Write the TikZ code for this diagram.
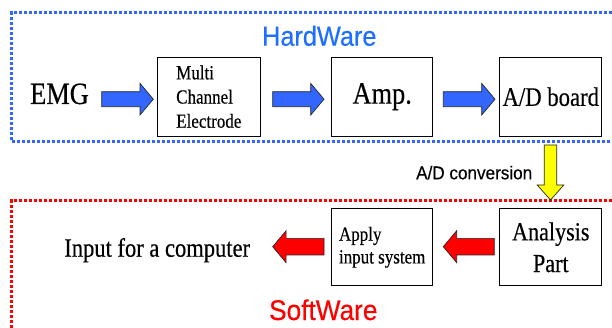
\documentclass[tikz,border=0pt]{standalone}
\usepackage{fontspec}
\setmainfont{Liberation Serif}
\newfontfamily\tnr[FakeStretch=0.85,FakeBold=0.4]{Liberation Serif}
\newfontfamily\tah[FakeStretch=0.92,FakeBold=0.3]{Liberation Sans}
\usetikzlibrary{calc}
\definecolor{hwblue}{RGB}{30,110,255}
\definecolor{dotblue}{RGB}{51,102,255}
\definecolor{arrblue}{RGB}{51,102,255}
\definecolor{swred}{RGB}{255,0,0}
\definecolor{adyellow}{RGB}{255,255,0}
\tikzset{
  blockbox/.style={draw=black, line width=1pt, inner sep=0pt},
  dotframe/.style={line width=2.6pt, dash pattern=on 3pt off 2pt},
  arrowline/.style={draw=black!85, line width=0.7pt, line join=miter},
  plain/.style={inner sep=0pt, anchor=base},
}
% fill, start, end, shaft half width, head half width, head length
\newcommand\blkarrow[6]{%
  \coordinate (bkH) at ($(#3)!#6!(#2)$);
  \draw[arrowline, fill=#1]
    ($(#2)!#4!90:(#3)$) -- ($(bkH)!#4!-90:(#2)$) -- ($(bkH)!#5!-90:(#2)$) -- (#3)
    -- ($(bkH)!#5!90:(#2)$) -- ($(bkH)!#4!90:(#2)$) -- ($(#2)!#4!-90:(#3)$) -- cycle;
}
\begin{document}
\begin{tikzpicture}[x=1pt,y=-1pt]
\useasboundingbox (0,0) rectangle (612,328);

% frames
\draw[dotframe, draw=dotblue] (612,12.3) -- (11.7,12.3) -- (11.7,141.7) -- (612,141.7);
\draw[dotframe, draw=swred] (612,200.7) -- (11.7,200.7) -- (11.7,328);

% titles
\node[plain, text=hwblue, font={\tah\fontsize{27.5}{33}\selectfont}] (hw) at (319.3,45.7) {HardWare};
\node[plain, text=swred, font={\tah\fontsize{28.5}{34}\selectfont}] (sw) at (323.3,320) {SoftWare};

% hardware row
\node[plain, font={\tnr\fontsize{31}{37}\selectfont}] (emg) at (59.5,104) {EMG};
\node[blockbox, minimum width=103pt, minimum height=78.7pt, align=left,
      font={\tnr\fontsize{20}{24.2}\selectfont}] (mce) at (208.8,96.7) {Multi\\Channel\\Electrode};
\node[blockbox, minimum width=101pt, minimum height=78.7pt,
      font={\tnr\fontsize{31}{37}\selectfont}] (amp) at (382.2,96.7) {Amp.};
\node[blockbox, minimum width=101.7pt, minimum height=78.7pt,
      font={\tnr\fontsize{26.7}{32}\selectfont}] (adb) at (550.8,96.7) {A/D board};

% software row
\node[blockbox, minimum width=101.7pt, minimum height=76.7pt, align=center,
      font={\tnr\fontsize{26}{31.7}\selectfont}] (ana) at (550.8,247.3) {Analysis\\Part};
\node[blockbox, minimum width=101pt, minimum height=76.7pt, align=left,
      font={\tnr\fontsize{20}{22.7}\selectfont}] (apply) at (382.2,247.3) {Apply\\input system};
\node[plain, font={\tnr\fontsize{26.5}{32}\selectfont}] (inp) at (157.2,256.7) {Input for a computer};

% A/D conversion label
\node[plain, font={\tah\fontsize{18.6}{22}\selectfont}] (adc) at (474.2,179.3) {A/D conversion};

% arrow end points
\coordinate (b1s) at (101.7,99.2);  \coordinate (b1e) at (153.3,99.2);
\coordinate (b2s) at (272.7,99.2);  \coordinate (b2e) at (324,99.2);
\coordinate (b3s) at (443.3,99.2);  \coordinate (b3e) at (495,99.2);
\coordinate (r1s) at (494.3,246.7); \coordinate (r1e) at (443.3,246.7);
\coordinate (r2s) at (324,246.7);   \coordinate (r2e) at (272.7,246.7);
\coordinate (y1s) at (550.5,145);   \coordinate (y1e) at (550.5,200);

\blkarrow{arrblue}{b1s}{b1e}{7.5pt}{15.8pt}{13.3pt}
\blkarrow{arrblue}{b2s}{b2e}{7.5pt}{15.8pt}{13.3pt}
\blkarrow{arrblue}{b3s}{b3e}{7.5pt}{15.8pt}{13.3pt}
\blkarrow{swred}{r1s}{r1e}{8.3pt}{16pt}{13.4pt}
\blkarrow{swred}{r2s}{r2e}{8.3pt}{16pt}{13.4pt}
\blkarrow{adyellow}{y1s}{y1e}{6.2pt}{13.3pt}{15pt}
\end{tikzpicture}
\end{document}
